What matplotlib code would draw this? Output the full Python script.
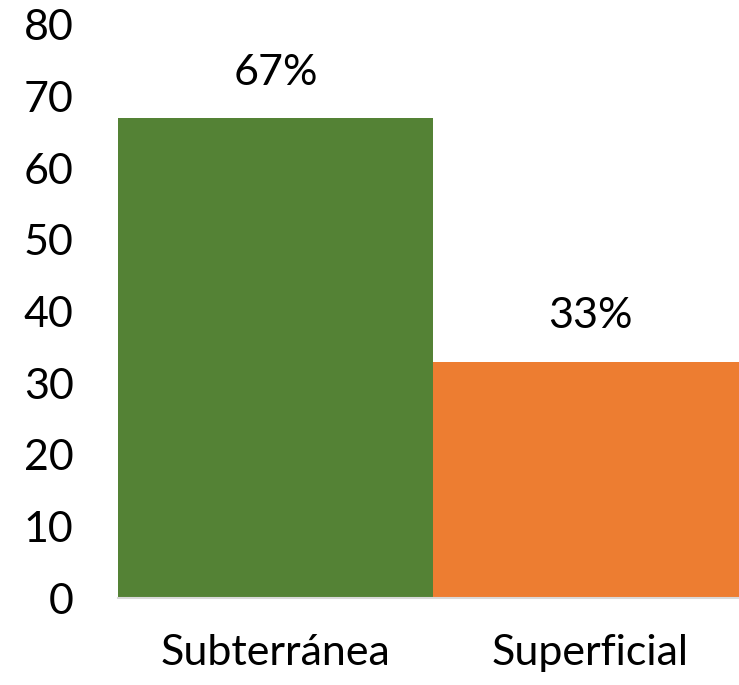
import matplotlib.pyplot as plt

# Origen del agua
categorias = ["Subterránea", "Superficial"]
porcentajes = [67, 33]
colores = ["#548235", "#ED7D31"]

plt.rcParams["font.family"] = ["Lato", "DejaVu Sans"]

fig = plt.figure(figsize=(7.39, 6.85), dpi=100)
ax = fig.add_axes([118 / 739, 87 / 685, 1 - 118 / 739, (598 - 25) / 685])

pos = range(len(categorias))
barras = ax.bar(pos, porcentajes, width=1.0, color=colores)

for b, v in zip(barras, porcentajes):
    ax.annotate(f"{v}%", (b.get_x() + b.get_width() / 2, v),
                xytext=(0, 19), textcoords="offset points",
                ha="center", va="bottom", fontsize=31)

ax.set_xlim(-0.5, -0.5 + (739 - 118) / 315)
ax.set_ylim(0, 80)
ax.set_yticks(range(0, 81, 10))
ax.set_xticks(list(pos))
ax.set_xticklabels(categorias)
ax.tick_params(axis="y", length=0, labelsize=31, pad=32)
ax.tick_params(axis="x", length=0, labelsize=31, pad=26)

for s in ["top", "right", "left"]:
    ax.spines[s].set_visible(False)
ax.spines["bottom"].set_color("#D9D9D9")
ax.spines["bottom"].set_linewidth(1.5)

fig.savefig("out.png", dpi=100)
